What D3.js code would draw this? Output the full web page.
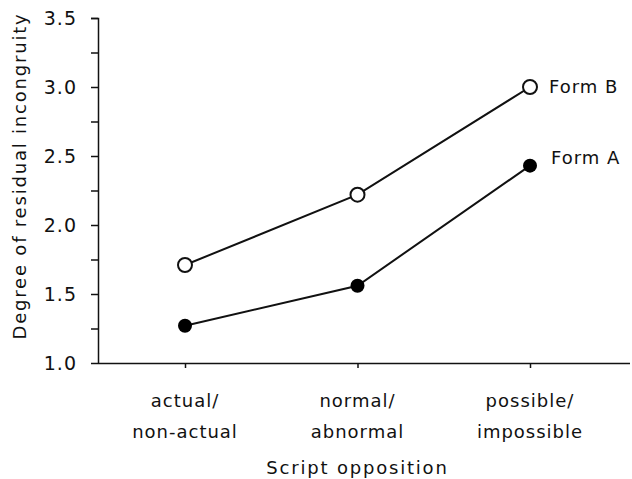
<!DOCTYPE html>
<html>
<head>
<meta charset="utf-8">
<script src="https://cdn.jsdelivr.net/npm/d3@7"></script>
<style>
  body { margin: 0; background: #fff; }
  text { font-family: "DejaVu Sans", sans-serif; fill: #111; letter-spacing: 1px; }
</style>
</head>
<body>
<div id="chart"></div>
<script>
// data
let categories = [['actual/', 'non-actual'], ['normal/', 'abnormal'], ['possible/', 'impossible']];
let formA = [1.27, 1.56, 2.43];
let formB = [1.71, 2.22, 3.0];
let yTicks = [1.0, 1.5, 2.0, 2.5, 3.0, 3.5];
let seriesNames = ['Form A', 'Form B'];

let svgWidth = 632;
let svgHeight = 479;

let margin = { top: 18, right: 2, bottom: 116, left: 98 };
let width = svgWidth - margin.left - margin.right;
let height = svgHeight - margin.top - margin.bottom;

let svg = d3.select('#chart').append('svg')
    .attr('width', svgWidth)
    .attr('height', svgHeight);

let chartGroup = svg.append('g')
    .attr('transform', `translate(${margin.left}, ${margin.top})`);

// scales
let xScale = d3.scalePoint()
    .domain(d3.range(categories.length))
    .range([87, 432]);

let yScale = d3.scaleLinear()
    .domain([1.0, 3.5])
    .range([height, 0]);

// y axis, major + minor ticks
let leftAxis = d3.axisLeft(yScale)
    .tickValues(yTicks)
    .tickFormat(d3.format('.1f'))
    .tickSize(7)
    .tickPadding(14);

let minorAxis = d3.axisLeft(yScale)
    .tickValues(d3.range(1.25, 3.5, 0.5))
    .tickFormat('')
    .tickSize(7);

let yAxis = chartGroup.append('g').call(leftAxis);
chartGroup.append('g').call(minorAxis).select('.domain').remove();

yAxis.select('.domain').attr('d', `M-7,0.5H0.5V${height}`);
yAxis.selectAll('text').attr('font-size', '19px').attr('font-family', '"DejaVu Sans", sans-serif');

// x axis
let bottomAxis = d3.axisBottom(xScale)
    .tickFormat('')
    .tickSize(5);

let xAxis = chartGroup.append('g')
    .attr('transform', `translate(0, ${height})`)
    .call(bottomAxis);
xAxis.select('.domain').attr('d', `M0,0.5H${width}`);

chartGroup.selectAll('.domain, .tick line').attr('stroke', '#111').attr('stroke-width', 1.5);

// category labels
let catLabels = chartGroup.append('g').selectAll('text')
    .data(categories)
    .enter()
    .append('text')
    .attr('x', (d, i) => xScale(i))
    .attr('y', height + 44)
    .attr('text-anchor', 'middle')
    .attr('font-size', '18px');

catLabels.append('tspan').attr('x', (d, i) => xScale(i)).text(d => d[0]);
catLabels.append('tspan').attr('x', (d, i) => xScale(i)).attr('dy', 31).text(d => d[1]);

// axis titles
chartGroup.append('text')
    .attr('x', xScale(1))
    .attr('y', height + 111)
    .attr('text-anchor', 'middle')
    .attr('font-size', '18px')
    .style('letter-spacing', '1.8px')
    .text('Script opposition');

svg.append('text')
    .attr('transform', `translate(26, 176) rotate(-90)`)
    .attr('text-anchor', 'middle')
    .attr('font-size', '18px')
    .style('letter-spacing', '1.8px')
    .text('Degree of residual incongruity');

// lines
let line = d3.line()
    .x((d, i) => xScale(i))
    .y(d => yScale(d));

[formA, formB].forEach(function(series) {
    chartGroup.append('path')
        .datum(series)
        .attr('d', line)
        .attr('fill', 'none')
        .attr('stroke', '#111')
        .attr('stroke-width', 2);
});

// markers
chartGroup.selectAll('.ptA')
    .data(formA)
    .enter()
    .append('circle')
    .attr('cx', (d, i) => xScale(i))
    .attr('cy', d => yScale(d))
    .attr('r', 7)
    .attr('fill', '#000');

chartGroup.selectAll('.ptB')
    .data(formB)
    .enter()
    .append('circle')
    .attr('cx', (d, i) => xScale(i))
    .attr('cy', d => yScale(d))
    .attr('r', 7)
    .attr('fill', '#fff')
    .attr('stroke', '#111')
    .attr('stroke-width', 2);

// series labels
let last = categories.length - 1;
chartGroup.append('text')
    .attr('x', xScale(last) + 21)
    .attr('y', yScale(formA[last]) - 8)
    .attr('dy', '0.35em')
    .attr('font-size', '18px')
    .text(seriesNames[0]);

chartGroup.append('text')
    .attr('x', xScale(last) + 19)
    .attr('y', yScale(formB[last]))
    .attr('dy', '0.35em')
    .attr('font-size', '18px')
    .text(seriesNames[1]);
</script>
</body>
</html>
